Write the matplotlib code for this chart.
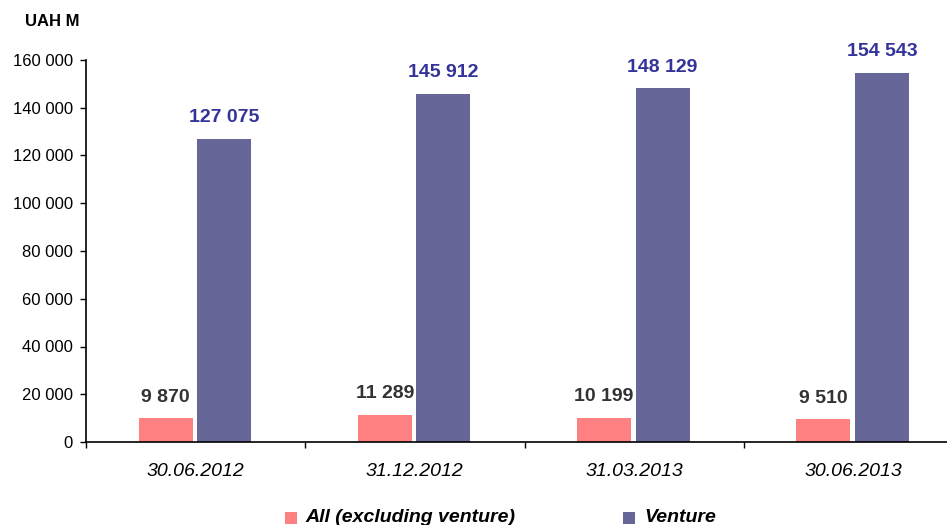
import matplotlib
matplotlib.use("Agg")
import matplotlib.pyplot as plt
from matplotlib.patches import Rectangle
from matplotlib.ticker import FuncFormatter
import numpy as np

plt.rcParams['font.family'] = ['Liberation Sans', 'DejaVu Sans']

categories = ["30.06.2012", "31.12.2012", "31.03.2013", "30.06.2013"]
all_excl = [9870, 11289, 10199, 9510]
venture = [127075, 145912, 148129, 154543]
series_names = ["All (excluding venture)", "Venture"]
y_ticks = [0, 20000, 40000, 60000, 80000, 100000, 120000, 140000, 160000]

c_pink = "#FF8080"
c_purple = "#666699"
c_lbl_pink = "#333333"
c_lbl_purple = "#333399"

W, H = 947, 525
fig = plt.figure(figsize=(W / 100, H / 100), dpi=100)
ax = fig.add_axes([86 / W, 1 - 442 / H, (963 - 86) / W, (442 - 60) / H])

x = np.arange(len(categories))
bw = 0.246
b1 = ax.bar(x - 0.137, all_excl, bw, color=c_pink)
b2 = ax.bar(x + 0.130, venture, bw, color=c_purple)

def fmt(v):
    return f"{int(v):,}".replace(",", " ")

for rect, v in zip(b1, all_excl):
    ax.annotate(fmt(v), (rect.get_x() + rect.get_width() / 2, v), xytext=(0, 12),
                textcoords="offset points", ha="center", va="baseline",
                fontsize=14, fontweight="bold", color=c_lbl_pink)
for rect, v in zip(b2, venture):
    ax.annotate(fmt(v), (rect.get_x() + rect.get_width() / 2, v), xytext=(0, 12),
                textcoords="offset points", ha="center", va="baseline",
                fontsize=14, fontweight="bold", color=c_lbl_purple)

ax.set_xlim(-0.5, len(categories) - 0.5)
ax.set_ylim(0, 160000)
ax.set_yticks(y_ticks)
ax.yaxis.set_major_formatter(FuncFormatter(lambda v, p: fmt(v)))
ax.tick_params(axis="y", labelsize=12, length=4.5, width=1, pad=5, direction="out")
ax.set_xticks(x)
ax.set_xticklabels(categories, fontsize=14, fontstyle="italic")
ax.tick_params(axis="x", which="major", length=0, pad=15)
ax.set_xticks(np.arange(len(categories)) - 0.5, minor=True)
ax.tick_params(axis="x", which="minor", length=4.5, width=1, direction="out")
for s in ["top", "right"]:
    ax.spines[s].set_visible(False)
for s in ["left", "bottom"]:
    ax.spines[s].set_linewidth(1.2)

fig.text(25 / W, 1 - 22 / H, "UAH M", fontsize=12, fontweight="bold", ha="left", va="center")

# legend
for sx, tx, col, name in [(285, 305, c_pink, series_names[0]), (623, 644, c_purple, series_names[1])]:
    fig.add_artist(Rectangle((sx / W, 1 - 524 / H), 12 / W, 12 / H, transform=fig.transFigure,
                             facecolor=col, edgecolor="none"))
    fig.text(tx / W, 1 - 522 / H, name, fontsize=14, fontweight="bold", fontstyle="italic",
             ha="left", va="baseline")

fig.savefig("out.png", dpi=100)
